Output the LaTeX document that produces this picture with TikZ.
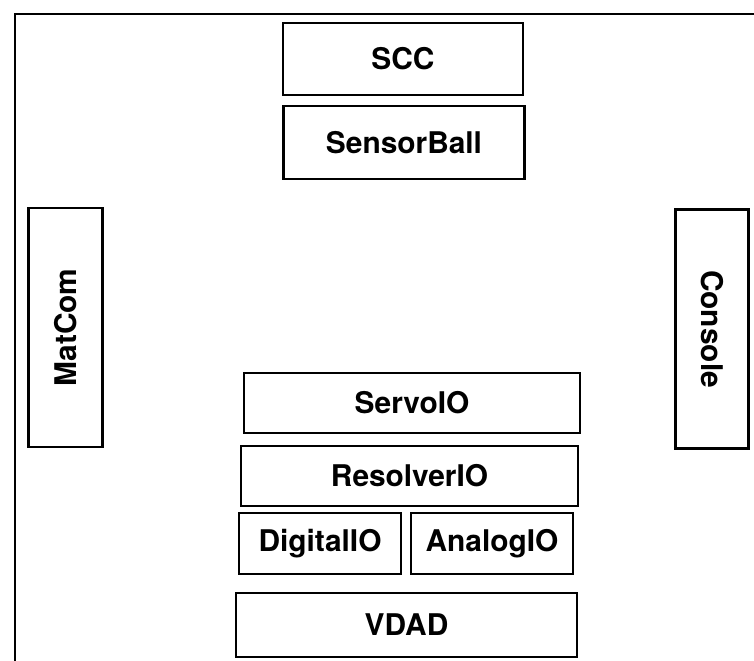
\documentclass[tikz,border=0pt]{standalone}
\usepackage{fontspec}
\setmainfont{TeX Gyre Heros}
\usepackage{tikz}
\usetikzlibrary{positioning}
\tikzset{
	module/.style={draw=black, rectangle, inner sep=0pt,
		font=\fontsize{17}{20}\selectfont\bfseries},
	sidemodule/.style={module, minimum width=4.78cm, minimum height=1.47cm},
}

\begin{document}
\begin{tikzpicture}[line width=1.5 pt]
	\useasboundingbox (0,0) rectangle (15.08,-13.2);
%
	% enclosing frame, cut off at the right and bottom
	\draw (0.3,-13.4) -- (0.3,-0.28) -- (15.3,-0.28);
%
	\node[module, minimum width=4.8cm, minimum height=1.44cm] (scc) at (8.06,-1.18) {SCC};
	\node[module, minimum width=4.82cm, minimum height=1.46cm] (sensorball) at (8.08,-2.85) {SensorBall};
%
	\node[sidemodule, rotate=90] (matcom) at (1.31,-6.55) {MatCom};
	\node[sidemodule, rotate=-90] (console) at (14.24,-6.58) {Console};
%
	\node[module, minimum width=6.72cm, minimum height=1.2cm] (servoio) at (8.24,-8.06) {ServoIO};
	\node[module, minimum width=6.74cm, minimum height=1.2cm] (resolverio) at (8.19,-9.52) {ResolverIO};
	\node[module, minimum width=3.24cm, minimum height=1.22cm] (digitalio) at (6.4,-10.87) {DigitalIO};
	\node[module, minimum width=3.24cm, minimum height=1.22cm] (analogio) at (9.84,-10.87) {AnalogIO};
	\node[module, minimum width=6.82cm, minimum height=1.28cm] (vdad) at (8.13,-12.5) {VDAD};
 \end{tikzpicture}
\end{document}
